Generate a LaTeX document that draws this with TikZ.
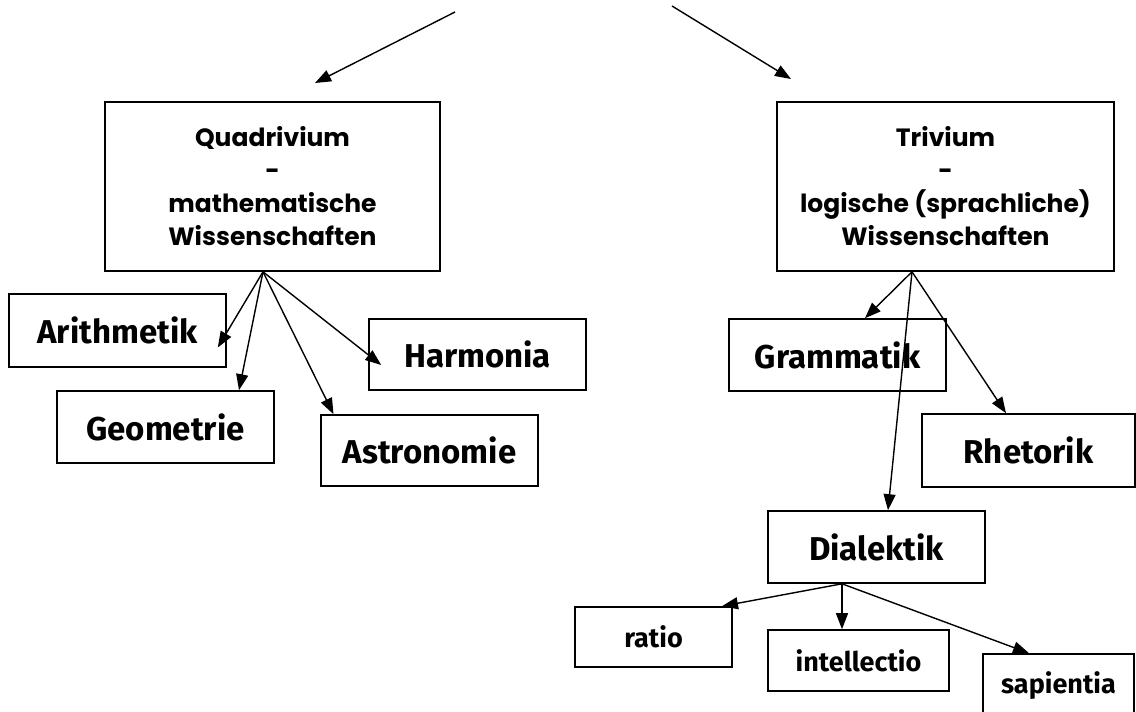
\documentclass[tikz,border=0pt]{standalone}
\usepackage{fontspec}
\newfontfamily\gothic{Poppins}
\newfontfamily\comic{Fira Sans}
\usetikzlibrary{arrows.meta,calc}
\begin{document}
\begin{tikzpicture}[x=1pt,y=-1pt,
  box/.style={draw, line width=1.6pt, inner sep=0pt, align=center},
  big/.style={box, font=\comic\bfseries\fontsize{33}{38}\selectfont},
  small/.style={box, font=\comic\bfseries\fontsize{27}{32}\selectfont},
  head/.style={box, font=\gothic\bfseries\fontsize{25}{33}\selectfont},
  arr/.style={line width=1.4pt, -{Triangle[length=16pt,width=12pt]}},
]
\useasboundingbox (0,0) rectangle (1136,712);

% top boxes
\node[head, minimum width=335pt, minimum height=169pt] (quad) at (272.5,186.5)
  {Quadrivium\\-\\mathematische\\Wissenschaften};
\node[head, minimum width=337pt, minimum height=169pt] (triv) at (945.5,186.5)
  {Trivium\\-\\logische (sprachliche)\\Wissenschaften};

% quadrivium children
\node[big, minimum width=217pt, minimum height=73pt] (arith) at (117.5,330.5) {Arithmetik};
\node[big, minimum width=217pt, minimum height=72pt] (geo) at (165.5,427) {Geometrie};
\node[big, minimum width=217pt, minimum height=71pt] (harm) at (477.5,354.5) {Harmonia};
\node[big, minimum width=217pt, minimum height=71pt] (astro) at (429.5,450.5) {Astronomie};

% trivium children
\node[big, minimum width=217pt, minimum height=72pt] (gram) at (837.5,355) {Grammatik};
\node[big, minimum width=213pt, minimum height=73pt] (rhet) at (1028.5,450.5) {Rhetorik};
\node[big, minimum width=217pt, minimum height=72pt] (dial) at (876.5,547) {Dialektik};

% dialektik children
\node[small, minimum width=157pt, minimum height=60pt] (ratio) at (653.5,637) {ratio};
\node[small, minimum width=181pt, minimum height=61pt] (intel) at (858.5,660.5) {intellectio};
\node[small, minimum width=151pt, minimum height=64pt] (sap) at (1058.5,686) {sapientia};

% top free arrows
\coordinate (ltop) at (455,12);
\coordinate (ltip) at (315,83);
\coordinate (rtop) at (672,6);
\coordinate (rtip) at (791,79);
\draw[arr] (ltop) -- (ltip);
\draw[arr] (rtop) -- (rtip);

% origins
\coordinate (qo) at ([xshift=-9.5pt]quad.south);
\coordinate (to) at ([xshift=-33.5pt]triv.south);
\coordinate (do) at ([xshift=-34.5pt]dial.south);

\draw[arr] (qo) -- ([xshift=-9pt,yshift=-17pt]arith.east);
\draw[arr] (qo) -- ([xshift=73.5pt]geo.north);
\draw[arr] (qo) -- ([xshift=-96pt]astro.north);
\draw[arr] (qo) -- ([xshift=13pt,yshift=-10.5pt]harm.west);

\draw[arr] (to) -- ([xshift=27.5pt]gram.north);
\draw[arr] (to) -- ([xshift=-22.5pt]rhet.north);
\draw[arr] (to) -- ([xshift=11.5pt]dial.north);

\draw[arr] (do) -- ([xshift=68.5pt]ratio.north);
\draw[arr] (do) -- ([xshift=-16.5pt]intel.north);
\draw[arr] (do) -- ([xshift=-29.5pt]sap.north);
\end{tikzpicture}
\end{document}
